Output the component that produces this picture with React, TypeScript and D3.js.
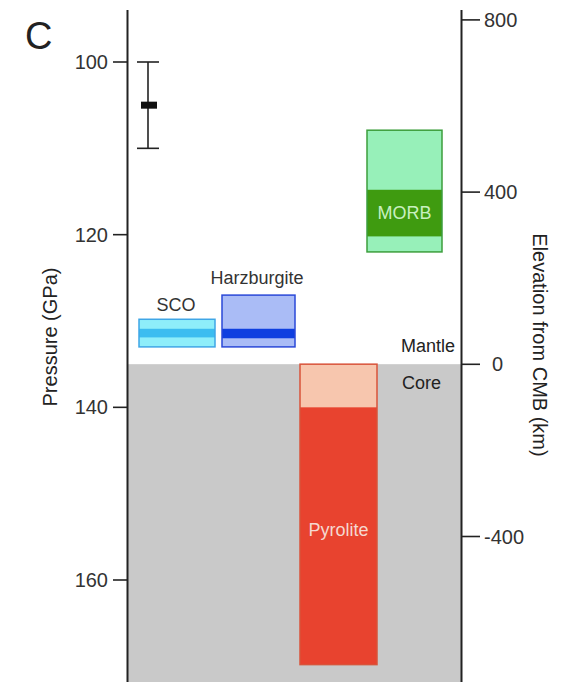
import React from "react";
import * as d3 from "d3";

const pressureTicks = [100, 120, 140, 160];
const elevationTicks = [800, 400, 0, -400];

const rockNames = ["SCO", "Harzburgite", "MORB", "Pyrolite"];
const rockTop = [129.8, 127.0, 107.9, 135.0];
const rockBottom = [133.0, 133.0, 122.0, 169.8];
const bandTop = [130.9, 130.9, 114.8, 140.0];
const bandBottom = [131.9, 132.0, 120.2, 169.8];

const errLow = 100;
const errMean = 105;
const errHigh = 110;
const cmbPressure = 135;

const W = 563;
const H = 682;
const xL = 127.5;
const xR = 461.5;
const yTop = 10;
const yBot = 682;

const yP = d3.scaleLinear().domain([100, 160]).range([62, 580]);
const yE = d3.scaleLinear().domain([0, 400]).range([364.3, 192.1]);

const layout = [
  { x0: 139, x1: 215, light: "#8eeefa", band: "#3cbdf0", stroke: "#3fa6e6", lx: 176, ly: 311, lc: "#333", inside: false },
  { x0: 222, x1: 295, light: "#aabcf6", band: "#0f3fe0", stroke: "#2a48d8", lx: 257, ly: 284, lc: "#333", inside: false },
  { x0: 367, x1: 442, light: "#97f0b9", band: "#3f9b10", stroke: "#3c9e3c", lx: 404.5, ly: 219, lc: "#c8f0c0", inside: true },
  { x0: 300, x1: 377, light: "#f7c6ae", band: "#e8432f", stroke: "#d9533a", lx: 338.5, ly: 536, lc: "#f5d8d0", inside: true },
];

const font = "'Liberation Sans', Arial, Helvetica, sans-serif";

export default function App() {
  const yc = yP(cmbPressure);
  return (
    <svg width={W} height={H} style={{ position: "absolute", left: 0, top: 0, background: "#fff" }} fontFamily={font}>
      <rect x={xL} y={yc} width={xR - xL} height={yBot - yc} fill="#c9c9c9" />
      {rockNames.map((n, i) => {
        const L = layout[i];
        return (
          <g key={n}>
            <rect x={L.x0} y={yP(rockTop[i])} width={L.x1 - L.x0} height={yP(rockBottom[i]) - yP(rockTop[i])} fill={L.light} />
            <rect x={L.x0} y={yP(bandTop[i])} width={L.x1 - L.x0} height={yP(bandBottom[i]) - yP(bandTop[i])} fill={L.band} />
            <rect x={L.x0} y={yP(rockTop[i])} width={L.x1 - L.x0} height={yP(rockBottom[i]) - yP(rockTop[i])} fill="none" stroke={L.stroke} strokeWidth={1.5} />
            <text x={L.lx} y={L.ly} textAnchor="middle" fontSize={18} fill={L.lc}>{n}</text>
          </g>
        );
      })}
      {/* error bar */}
      <g stroke="#222" strokeWidth={1.6}>
        <line x1={148} x2={148} y1={yP(errLow)} y2={yP(errHigh)} />
        <line x1={137} x2={159} y1={yP(errLow)} y2={yP(errLow)} />
        <line x1={137} x2={159} y1={yP(errHigh)} y2={yP(errHigh)} />
      </g>
      <rect x={141} y={yP(errMean) - 3.5} width={16} height={7} fill="#111" />
      {/* axes */}
      <line x1={xL} x2={xL} y1={yTop} y2={yBot} stroke="#222" strokeWidth={2} />
      <line x1={xR} x2={xR} y1={yTop} y2={yBot} stroke="#222" strokeWidth={2} />
      {pressureTicks.map((t) => (
        <g key={t}>
          <line x1={113} x2={xL} y1={yP(t)} y2={yP(t)} stroke="#222" strokeWidth={1.6} />
          <text x={108} y={yP(t)} dy="0.35em" textAnchor="end" fontSize={20} fill="#333">{t}</text>
        </g>
      ))}
      {elevationTicks.map((t) => (
        <g key={t}>
          <line x1={xR} x2={480} y1={yE(t)} y2={yE(t)} stroke="#222" strokeWidth={1.6} />
          <text x={t === 0 ? 492 : 484} y={yE(t)} dy="0.35em" textAnchor="start" fontSize={20} fill="#333">{t === -400 ? "-400" : t}</text>
        </g>
      ))}
      <text x={455} y={352} textAnchor="end" fontSize={18} fill="#222">Mantle</text>
      <text x={421.5} y={389} textAnchor="middle" fontSize={18} fill="#222">Core</text>
      <text transform={`translate(57,337) rotate(-90)`} textAnchor="middle" fontSize={20} fill="#222">Pressure (GPa)</text>
      <text transform={`translate(533,345) rotate(90)`} textAnchor="middle" fontSize={20} fill="#222">Elevation from CMB (km)</text>
      <text x={25} y={49} fontSize={38} fill="#222">C</text>
    </svg>
  );
}
